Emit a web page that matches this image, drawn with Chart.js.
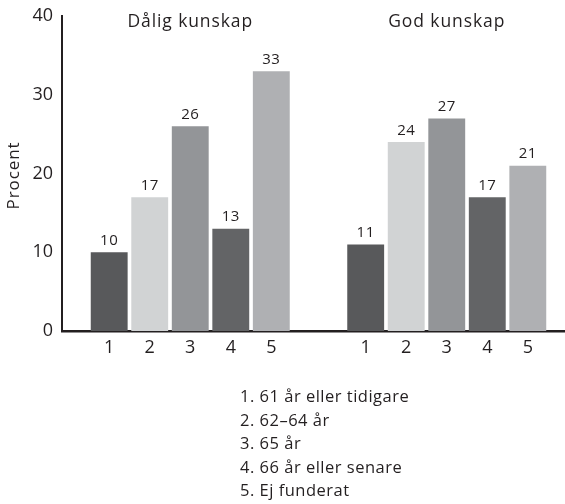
<!DOCTYPE html>
<html>
<head>
<meta charset="utf-8">
<script src="https://cdn.jsdelivr.net/npm/chart.js@4.4.1/dist/chart.umd.min.js"></script>
<style>
  html, body { margin: 0; padding: 0; background: #fff; overflow: hidden; }
  #wrap { position: relative; width: 565px; height: 504px; overflow: hidden; }
  #chart-box { position: absolute; left: 0; top: 0; width: 575px; height: 504px; }
  #key {
    position: absolute; left: 240px; top: 384px;
    font-family: "Open Sans", sans-serif; font-size: 16.5px; line-height: 23.5px;
    letter-spacing: 0.5px; color: #231f20;
  }
</style>
</head>
<body>
<div id="wrap">
  <div id="chart-box"><canvas id="chart"></canvas></div>
  <div id="key"></div>
</div>
<script>
// ─── data ────────────────────────────────────────────────────────────────
const groups = ['Dålig kunskap', 'God kunskap'];
const optionCodes = ['1', '2', '3', '4', '5'];
const optionNames = ['61 år eller tidigare', '62–64 år', '65 år', '66 år eller senare', 'Ej funderat'];
const daligKunskap = [10, 17, 26, 13, 33];
const godKunskap = [11, 24, 27, 17, 21];
const yTicks = [0, 10, 20, 30, 40];

// ─── style ───────────────────────────────────────────────────────────────
const barColors = ['#58595b', '#d1d3d4', '#939598', '#636466', '#afb0b3'];
const FONT = '"Open Sans", sans-serif';
const INK = '#231f20';

// key under the chart
document.getElementById('key').innerHTML = optionCodes
  .map((c, i) => `<div>${c}. ${optionNames[i]}</div>`).join('');

// value labels, per-bar option codes, group titles, rotated axis title
const labelPlugin = {
  id: 'barText',
  afterDatasetsDraw(chart) {
    const ctx = chart.ctx;
    const area = chart.chartArea;
    ctx.save();
    ctx.fillStyle = INK;
    ctx.textAlign = 'center';
    chart.data.datasets.forEach((ds, di) => {
      const meta = chart.getDatasetMeta(di);
      meta.data.forEach((bar, i) => {
        ctx.font = `15px ${FONT}`;
        ctx.letterSpacing = '0.5px';
        ctx.textBaseline = 'bottom';
        ctx.fillText(String(ds.data[i]), bar.x, bar.y - 4);
        ctx.font = `18px ${FONT}`;
        ctx.letterSpacing = '0px';
        ctx.textBaseline = 'middle';
        ctx.fillText(optionCodes[di], bar.x, area.bottom + 17);
      });
    });
    const xs = chart.scales.x;
    ctx.font = `17.5px ${FONT}`;
    ctx.letterSpacing = '0.9px';
    ctx.textBaseline = 'middle';
    groups.forEach((g, i) => {
      ctx.fillText(g, xs.getPixelForValue(i), 22);
    });
    // y axis title
    ctx.translate(14, (area.top + area.bottom) / 2 + 2);
    ctx.rotate(-Math.PI / 2);
    ctx.font = `17px ${FONT}`;
    ctx.letterSpacing = '0.9px';
    ctx.fillText('Procent', 0, 0);
    ctx.restore();
  }
};

new Chart(document.getElementById('chart'), {
  type: 'bar',
  data: {
    labels: groups,
    datasets: optionCodes.map((c, i) => ({
      label: `${c}. ${optionNames[i]}`,
      data: [daligKunskap[i], godKunskap[i]],
      backgroundColor: barColors[i],
      borderWidth: 0,
      categoryPercentage: 0.79,
      barPercentage: 0.91
    }))
  },
  options: {
    responsive: true,
    maintainAspectRatio: false,
    animation: false,
    layout: { padding: { top: 16, left: 0, right: 0, bottom: 0 } },
    plugins: {
      legend: { display: false },
      tooltip: { enabled: false },
      title: { display: false }
    },
    scales: {
      x: {
        grid: { display: false },
        border: { display: true, color: '#231f20', width: 2.5 },
        ticks: { display: false },
        afterFit(scale) { scale.height = 504 - 331; }
      },
      y: {
        min: 0,
        max: 40,
        afterBuildTicks(scale) { scale.ticks = yTicks.map(v => ({ value: v })); },
        grid: { display: false },
        border: { display: true, color: '#231f20', width: 2 },
        ticks: {
          color: INK,
          padding: 1,
          font: { family: FONT, size: 18 }
        },
        title: { display: false },
        afterFit(scale) { scale.width = 62; }
      }
    }
  },
  plugins: [labelPlugin]
});
</script>
</body>
</html>
